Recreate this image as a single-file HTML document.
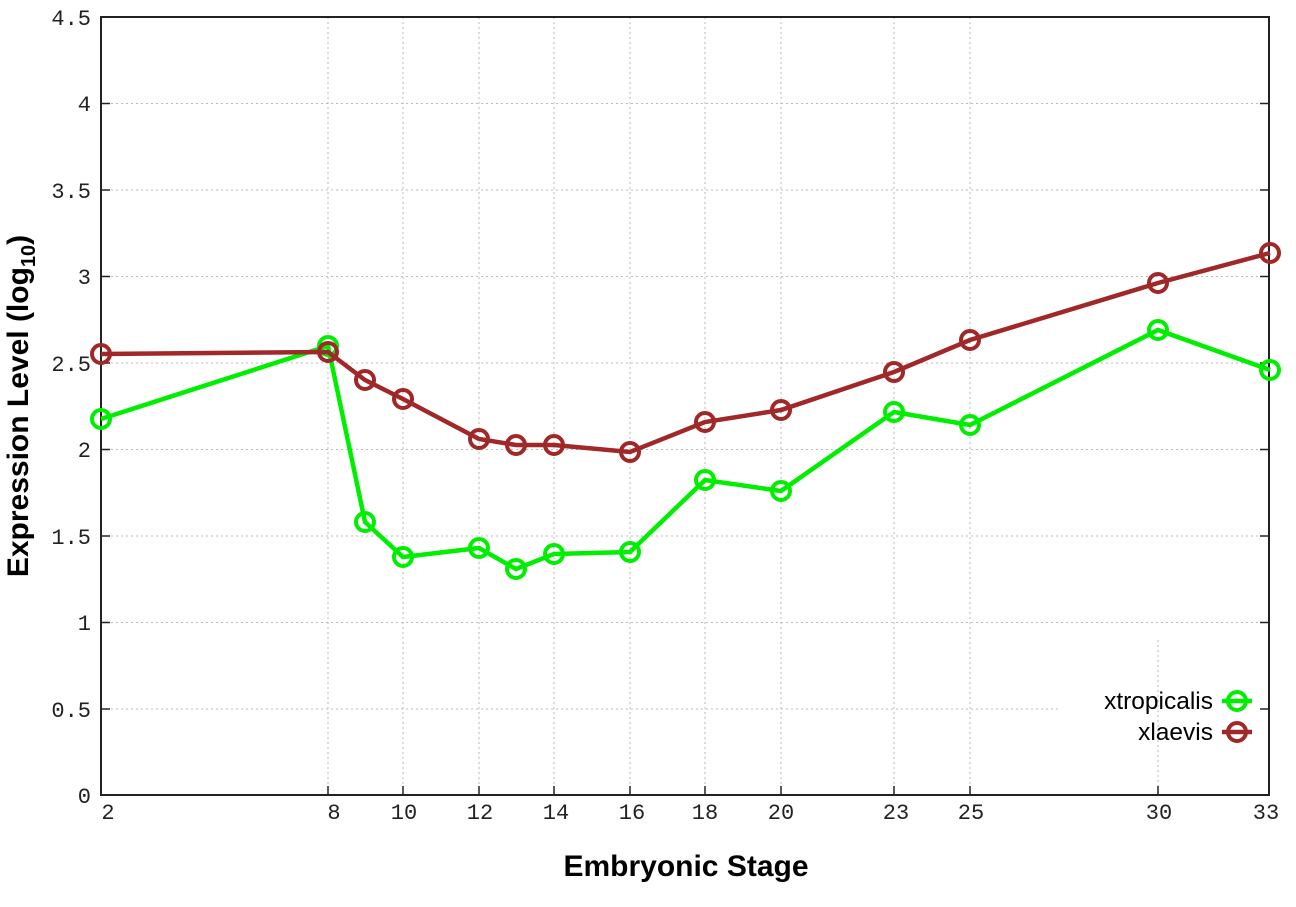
<!DOCTYPE html>
<html><head><meta charset="utf-8"><style>
html,body{margin:0;padding:0;background:#fff;}
svg{display:block;}
.t{font-family:"Liberation Mono",monospace;font-size:22px;fill:#222;}
.b{font-family:"Liberation Sans",sans-serif;font-weight:bold;font-size:30px;fill:#000;}
.l{font-family:"Liberation Sans",sans-serif;font-size:24.5px;fill:#000;}
</style></head><body>
<svg width="1296" height="907" viewBox="0 0 1296 907" xmlns="http://www.w3.org/2000/svg">
<g stroke="#bbb" stroke-width="1" stroke-dasharray="2,3">
<line x1="101" x2="1269" y1="103.5" y2="103.5"/><line x1="101" x2="1269" y1="190" y2="190"/>
<line x1="101" x2="1269" y1="276.5" y2="276.5"/><line x1="101" x2="1269" y1="363" y2="363"/>
<line x1="101" x2="1269" y1="449.5" y2="449.5"/><line x1="101" x2="1269" y1="536" y2="536"/>
<line x1="101" x2="1269" y1="622.5" y2="622.5"/><line x1="101" x2="1060" y1="709" y2="709"/>
<line x1="328" x2="328" y1="17" y2="795"/><line x1="403" x2="403" y1="17" y2="795"/>
<line x1="479" x2="479" y1="17" y2="795"/><line x1="554" x2="554" y1="17" y2="795"/>
<line x1="630" x2="630" y1="17" y2="795"/><line x1="705" x2="705" y1="17" y2="795"/>
<line x1="781" x2="781" y1="17" y2="795"/><line x1="894" x2="894" y1="17" y2="795"/>
<line x1="970" x2="970" y1="17" y2="795"/><line x1="1158" x2="1158" y1="640" y2="795"/>
</g>
<rect x="101" y="17" width="1168" height="778" fill="none" stroke="#222" stroke-width="2"/>
<g stroke="#222" stroke-width="1.5">
<line x1="101" x2="110" y1="103.5" y2="103.5"/><line x1="101" x2="110" y1="190" y2="190"/>
<line x1="101" x2="110" y1="276.5" y2="276.5"/><line x1="101" x2="110" y1="363" y2="363"/>
<line x1="101" x2="110" y1="449.5" y2="449.5"/><line x1="101" x2="110" y1="536" y2="536"/>
<line x1="101" x2="110" y1="622.5" y2="622.5"/><line x1="101" x2="110" y1="709" y2="709"/>
<line x1="1269" x2="1260" y1="103.5" y2="103.5"/><line x1="1269" x2="1260" y1="190" y2="190"/>
<line x1="1269" x2="1260" y1="276.5" y2="276.5"/><line x1="1269" x2="1260" y1="363" y2="363"/>
<line x1="1269" x2="1260" y1="449.5" y2="449.5"/><line x1="1269" x2="1260" y1="536" y2="536"/>
<line x1="1269" x2="1260" y1="622.5" y2="622.5"/><line x1="1269" x2="1260" y1="709" y2="709"/>
<line x1="328" x2="328" y1="795" y2="786"/><line x1="403" x2="403" y1="795" y2="786"/>
<line x1="479" x2="479" y1="795" y2="786"/><line x1="554" x2="554" y1="795" y2="786"/>
<line x1="630" x2="630" y1="795" y2="786"/><line x1="705" x2="705" y1="795" y2="786"/>
<line x1="781" x2="781" y1="795" y2="786"/><line x1="894" x2="894" y1="795" y2="786"/>
<line x1="970" x2="970" y1="795" y2="786"/><line x1="1158" x2="1158" y1="795" y2="786"/>
</g>
<g class="t" text-anchor="end">
<text x="91" y="25">4.5</text><text x="91" y="111">4</text><text x="91" y="198">3.5</text>
<text x="91" y="284">3</text><text x="91" y="371">2.5</text><text x="91" y="457">2</text>
<text x="91" y="544">1.5</text><text x="91" y="630">1</text><text x="91" y="717">0.5</text>
<text x="91" y="803">0</text>
</g>
<g class="t" text-anchor="middle">
<text x="108" y="819">2</text><text x="334" y="819">8</text><text x="404" y="819">10</text>
<text x="480" y="819">12</text><text x="556" y="819">14</text><text x="632" y="819">16</text>
<text x="705" y="819">18</text><text x="781" y="819">20</text><text x="896" y="819">23</text>
<text x="971" y="819">25</text><text x="1159" y="819">30</text><text x="1266" y="819">33</text>
</g>
<text class="b" x="686" y="876" text-anchor="middle">Embryonic Stage</text>
<text class="b" transform="translate(28,406) rotate(-90)" text-anchor="middle">Expression Level (log<tspan font-size="20" dy="7">10</tspan><tspan dy="-7">)</tspan></text>
<g fill="none" stroke="#00ee00" stroke-width="4.5">
<polyline points="101,419 328,346 365,522 403,557 479,548 516,569 554,554 630,552 705,480 781,491 894,412 970,425 1158,330 1270,370"/>
<g stroke-width="4">
<circle cx="101" cy="419" r="9"/><circle cx="328" cy="346" r="9"/><circle cx="365" cy="522" r="9"/>
<circle cx="403" cy="557" r="9"/><circle cx="479" cy="548" r="9"/><circle cx="516" cy="569" r="9"/>
<circle cx="554" cy="554" r="9"/><circle cx="630" cy="552" r="9"/><circle cx="705" cy="480" r="9"/>
<circle cx="781" cy="491" r="9"/><circle cx="894" cy="412" r="9"/><circle cx="970" cy="425" r="9"/>
<circle cx="1158" cy="330" r="9"/><circle cx="1270" cy="370" r="9"/>
</g></g>
<g fill="none" stroke="#a02828" stroke-width="4.5">
<polyline points="101,354 328,352 365,380 403,399 479,439 516,445 554,445 630,452 705,422 781,410 894,372 970,340 1158,283 1270,253"/>
<g stroke-width="4">
<circle cx="101" cy="354" r="9"/><circle cx="328" cy="352" r="9"/><circle cx="365" cy="380" r="9"/>
<circle cx="403" cy="399" r="9"/><circle cx="479" cy="439" r="9"/><circle cx="516" cy="445" r="9"/>
<circle cx="554" cy="445" r="9"/><circle cx="630" cy="452" r="9"/><circle cx="705" cy="422" r="9"/>
<circle cx="781" cy="410" r="9"/><circle cx="894" cy="372" r="9"/><circle cx="970" cy="340" r="9"/>
<circle cx="1158" cy="283" r="9"/><circle cx="1270" cy="253" r="9"/>
</g></g>
<text class="l" x="1213" y="709" text-anchor="end">xtropicalis</text>
<text class="l" x="1213" y="740" text-anchor="end">xlaevis</text>
<line x1="1222" x2="1252" y1="701" y2="701" stroke="#00ee00" stroke-width="4.5"/>
<circle cx="1237" cy="701" r="9" fill="none" stroke="#00ee00" stroke-width="4"/>
<line x1="1222" x2="1252" y1="732" y2="732" stroke="#a02828" stroke-width="4.5"/>
<circle cx="1237" cy="732" r="9" fill="none" stroke="#a02828" stroke-width="4"/>
</svg>
</body></html>
